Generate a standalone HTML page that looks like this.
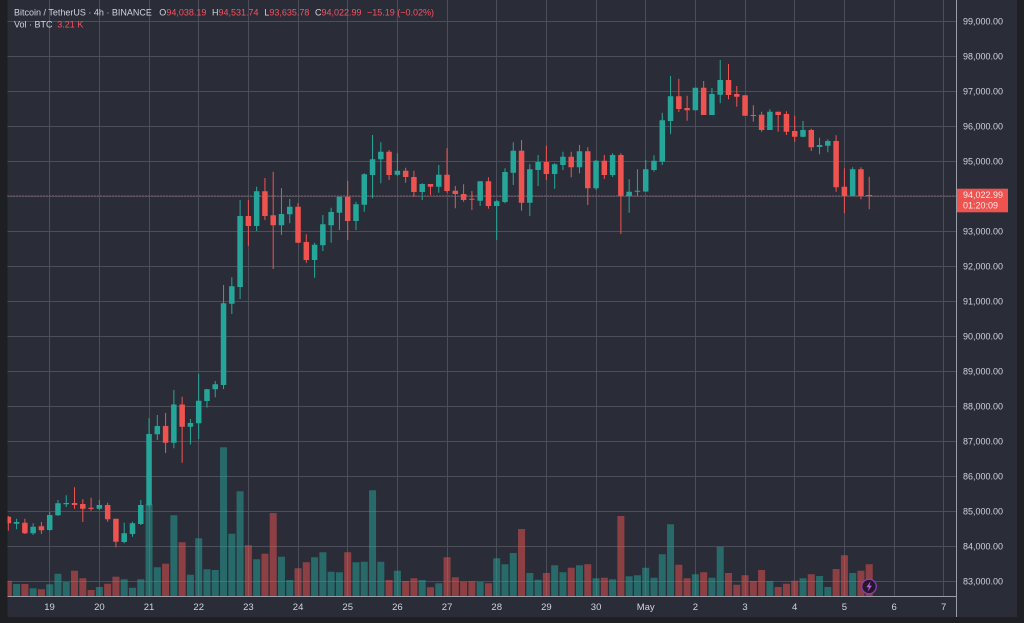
<!DOCTYPE html>
<html><head><meta charset="utf-8"><style>
html,body{margin:0;padding:0;background:#1e1f22;}
svg{display:block;}
text{font-family:"Liberation Sans",Arial,sans-serif;}
</style></head><body>
<svg width="1024" height="623" viewBox="0 0 1024 623" xmlns="http://www.w3.org/2000/svg">
<defs><clipPath id="c"><rect x="7.5" y="0" width="949" height="596"/></clipPath></defs>
<rect x="0" y="0" width="1024" height="623" fill="#1e1f22"/>
<rect x="7.5" y="0" width="1009.5" height="617" fill="#2a2d38"/>
<g stroke="#4c4f5a" stroke-width="1">
<path d="M7.5 21.5H956M7.5 56.5H956M7.5 91.5H956M7.5 126.5H956M7.5 161.5H956M7.5 196.5H956M7.5 231.5H956M7.5 266.5H956M7.5 301.5H956M7.5 336.5H956M7.5 371.5H956M7.5 406.5H956M7.5 441.5H956M7.5 476.5H956M7.5 511.5H956M7.5 546.5H956M7.5 581.5H956"/>
<path d="M49.5 0V596M99.5 0V596M149.5 0V596M198.5 0V596M248.5 0V596M298.5 0V596M347.5 0V596M397.5 0V596M447.5 0V596M496.5 0V596M546.5 0V596M596.5 0V596M645.5 0V596M695.5 0V596M745.5 0V596M794.5 0V596M844.5 0V596M894.5 0V596M943.5 0V596"/>
</g>
<g clip-path="url(#c)">
<path fill="#26a69a" fill-opacity="0.5" d="M13.09 584h7V596h-7zM29.64 588.3h7V596h-7zM46.2 584.3h7V596h-7zM54.48 573.7h7V596h-7zM62.76 582h7V596h-7zM95.87 587h7V596h-7zM120.7 579.3h7V596h-7zM128.98 587.7h7V596h-7zM137.26 579.3h7V596h-7zM145.54 504.3h7V596h-7zM153.81 567.3h7V596h-7zM170.37 515.3h7V596h-7zM186.93 574.7h7V596h-7zM195.2 538.3h7V596h-7zM203.48 569.3h7V596h-7zM211.76 570h7V596h-7zM220.04 447.3h7V596h-7zM228.32 533.7h7V596h-7zM236.59 491.3h7V596h-7zM253.15 559.3h7V596h-7zM277.98 556.7h7V596h-7zM286.26 580h7V596h-7zM311.1 557.3h7V596h-7zM319.37 552.3h7V596h-7zM327.65 571.7h7V596h-7zM335.93 572.3h7V596h-7zM352.49 562.3h7V596h-7zM360.76 561.7h7V596h-7zM369.04 490.3h7V596h-7zM377.32 561.7h7V596h-7zM393.88 570.7h7V596h-7zM418.71 580h7V596h-7zM435.27 583.3h7V596h-7zM476.66 582h7V596h-7zM493.21 558.3h7V596h-7zM501.49 564.3h7V596h-7zM509.77 553h7V596h-7zM526.32 573h7V596h-7zM534.6 579.7h7V596h-7zM551.16 565.3h7V596h-7zM559.44 572.3h7V596h-7zM575.99 565.3h7V596h-7zM592.55 578.3h7V596h-7zM609.1 579.3h7V596h-7zM625.66 576.3h7V596h-7zM633.94 575.3h7V596h-7zM642.22 567.7h7V596h-7zM650.49 577.7h7V596h-7zM658.77 554.3h7V596h-7zM667.05 524.3h7V596h-7zM691.88 574.3h7V596h-7zM708.44 577.7h7V596h-7zM716.72 546.7h7V596h-7zM766.39 581h7V596h-7zM799.5 578.3h7V596h-7zM816.05 576h7V596h-7zM824.33 587h7V596h-7zM849.17 573h7V596h-7z"/>
<path fill="#ef5350" fill-opacity="0.5" d="M4.81 580.7h7V596h-7zM21.37 584h7V596h-7zM37.92 589.3h7V596h-7zM71.03 570.7h7V596h-7zM79.31 578.3h7V596h-7zM87.59 590h7V596h-7zM104.15 583.7h7V596h-7zM112.42 576.7h7V596h-7zM162.09 563.7h7V596h-7zM178.65 542.3h7V596h-7zM244.87 545.3h7V596h-7zM261.43 553.7h7V596h-7zM269.71 513h7V596h-7zM294.54 568.3h7V596h-7zM302.82 562.3h7V596h-7zM344.21 552.3h7V596h-7zM385.6 580h7V596h-7zM402.15 581h7V596h-7zM410.43 578.3h7V596h-7zM426.99 587.3h7V596h-7zM443.54 557.3h7V596h-7zM451.82 577.3h7V596h-7zM460.1 581.7h7V596h-7zM468.38 581.3h7V596h-7zM484.93 583.3h7V596h-7zM518.05 529h7V596h-7zM542.88 573h7V596h-7zM567.71 567.7h7V596h-7zM584.27 564.3h7V596h-7zM600.83 577.7h7V596h-7zM617.38 516h7V596h-7zM675.33 564.7h7V596h-7zM683.61 578.3h7V596h-7zM700.16 572.3h7V596h-7zM725 573h7V596h-7zM733.27 584.7h7V596h-7zM741.55 575.3h7V596h-7zM749.83 581h7V596h-7zM758.11 570h7V596h-7zM774.66 587h7V596h-7zM782.94 583.7h7V596h-7zM791.22 580.7h7V596h-7zM807.78 574.3h7V596h-7zM832.61 569h7V596h-7zM840.89 555.3h7V596h-7zM857.44 570.7h7V596h-7zM865.72 564.3h7V596h-7z"/>
<path stroke="#ef5350" stroke-width="1" stroke-dasharray="1 2" d="M7.5 195.7H956"/>
<path stroke="#26a69a" stroke-width="1" fill="none" d="M16.59 518.7V529.3M33.14 523.3V535M49.7 511.7V530.7M57.98 500V516M66.26 495.3V507M99.37 500V510M124.2 522.7V543.3M132.48 521.7V536.7M140.76 500V525M149.04 418.3V506.7M157.31 415V440M173.87 390V448.3M190.43 419V444.5M198.7 374V439M206.98 389V407.5M215.26 381V397.3M223.54 285V389M231.82 277.3V314M240.09 200V299M256.65 186.7V231M281.48 188.3V235M289.76 199V223.3M314.6 242.7V277.7M322.87 215V251M331.15 207.7V242.7M339.43 196.7V230M355.99 201.7V230M364.26 173.3V211.7M372.54 135V198.3M380.82 142.3V183.3M397.38 153.3V176M422.21 183.3V200M438.77 165V192.7M480.16 181.3V206M496.71 200V240M504.99 168.3V203.3M513.27 142.3V185M529.82 164V216M538.1 155V186M554.66 163.3V188.7M562.94 151.7V170M579.49 145V173.3M596.05 160V190M612.6 153.3V177M629.16 179.3V212.7M637.44 169.3V196M645.72 160V192M653.99 155.3V171.7M662.27 112.7V165M670.55 76V134.3M695.38 87.7V110.3M711.94 88V115M720.22 60V103.3M769.89 109.3V130M803 121V137.3M819.55 137.7V154.3M827.83 139.3V152.3M852.67 167.3V196"/>
<path stroke="#ef5350" stroke-width="1" fill="none" d="M8.31 516V530.7M24.87 518.7V534M41.42 522V534M74.53 487.3V508.7M82.81 499.3V522M91.09 497.7V510.7M107.65 502.7V521.7M115.92 518.7V547.3M165.59 413V453M182.15 396.7V462.7M248.37 200V246M264.93 178V220M273.21 171.7V269M298.04 203V243M306.32 234.3V262.7M347.71 180.7V240M389.1 150V180M405.65 167.7V182.7M413.93 170.7V196.7M430.49 184V195M447.04 148.3V192.7M455.32 186V208.3M463.6 184.3V201.7M471.88 191V210M488.43 177.3V208.7M521.55 140V210.7M546.38 145.7V180M571.21 151.7V177.3M587.77 147.3V205M604.33 155V179M620.88 153.3V234M678.83 78.7V112M687.11 95.7V120.7M703.66 81V115M728.5 64V99.3M736.77 86V106.7M745.05 95.3V115.7M753.33 105.3V121.7M761.61 111.7V131.7M778.16 111.7V131.7M786.44 111.3V135M794.72 115.7V141.7M811.28 128.7V151M836.11 135.3V191.7M844.39 168.3V213.3M860.94 167.3V199.3M869.22 176.7V209.3"/>
<path fill="#26a69a" d="M13.84 522h5.5v1.7h-5.5zM30.39 526.7h5.5v6.6h-5.5zM46.95 515h5.5v15h-5.5zM55.23 503.3h5.5v12h-5.5zM63.51 503h5.5v1.2h-5.5zM96.62 505h5.5v3.7h-5.5zM121.45 533.3h5.5v8.7h-5.5zM129.73 523.3h5.5v10.7h-5.5zM138.01 505h5.5v19h-5.5zM146.29 434h5.5v71.3h-5.5zM154.56 426h5.5v8.3h-5.5zM171.12 404.5h5.5v38.2h-5.5zM187.68 423h5.5v3.7h-5.5zM195.95 400.7h5.5v22.6h-5.5zM204.23 389.3h5.5v11.7h-5.5zM212.51 384.3h5.5v5h-5.5zM220.79 303.3h5.5v81.7h-5.5zM229.07 286.3h5.5v17.4h-5.5zM237.34 216h5.5v71h-5.5zM253.9 191.3h5.5v34.7h-5.5zM278.73 214h5.5v11.3h-5.5zM287.01 206.7h5.5v7.6h-5.5zM311.85 244.7h5.5v15.3h-5.5zM320.12 224.3h5.5v21h-5.5zM328.4 212h5.5v13.3h-5.5zM336.68 196.7h5.5v16h-5.5zM353.24 204.3h5.5v16.7h-5.5zM361.51 174.3h5.5v30.4h-5.5zM369.79 159.3h5.5v15.7h-5.5zM378.07 151.7h5.5v7.6h-5.5zM394.63 170.7h5.5v4h-5.5zM419.46 184h5.5v8h-5.5zM436.02 174.7h5.5v12h-5.5zM477.41 181.3h5.5v19.4h-5.5zM493.96 201.3h5.5v4.7h-5.5zM502.24 172h5.5v30h-5.5zM510.52 150.7h5.5v22h-5.5zM527.07 169.3h5.5v33.4h-5.5zM535.35 162h5.5v8h-5.5zM551.91 164.3h5.5v9.7h-5.5zM560.19 156.7h5.5v8.3h-5.5zM576.74 151.3h5.5v16h-5.5zM593.3 160.7h5.5v27.6h-5.5zM609.85 155h5.5v20h-5.5zM626.41 191.7h5.5v4.3h-5.5zM634.69 190.7h5.5v1h-5.5zM642.97 169.3h5.5v22.2h-5.5zM651.24 160.7h5.5v9.3h-5.5zM659.52 120.3h5.5v41.4h-5.5zM667.8 96.3h5.5v24.7h-5.5zM692.63 87.7h5.5v22.6h-5.5zM709.19 94h5.5v21h-5.5zM717.47 80h5.5v14.7h-5.5zM767.14 111.7h5.5v18.3h-5.5zM800.25 130h5.5v6.7h-5.5zM816.8 145h5.5v2h-5.5zM825.08 141h5.5v4.7h-5.5zM849.92 169.3h5.5v26.7h-5.5z"/>
<path fill="#ef5350" d="M5.56 516.7h5.5v6.6h-5.5zM22.12 522.7h5.5v10.6h-5.5zM38.67 526.3h5.5v4h-5.5zM71.78 503h5.5v2h-5.5zM80.06 504h5.5v4.7h-5.5zM88.34 507.7h5.5v1.2h-5.5zM104.9 505h5.5v14.3h-5.5zM113.17 518.7h5.5v23h-5.5zM162.84 426h5.5v16.7h-5.5zM179.4 404.5h5.5v22.2h-5.5zM245.62 216h5.5v10h-5.5zM262.18 191.3h5.5v24.7h-5.5zM270.46 215.3h5.5v10h-5.5zM295.29 206.7h5.5v36h-5.5zM303.57 242h5.5v18h-5.5zM344.96 196.7h5.5v24.3h-5.5zM386.35 151.7h5.5v23.3h-5.5zM402.9 170.7h5.5v6.3h-5.5zM411.18 177h5.5v15h-5.5zM427.74 184h5.5v2.7h-5.5zM444.29 174.7h5.5v16.3h-5.5zM452.57 190.7h5.5v3.3h-5.5zM460.85 194h5.5v6h-5.5zM469.13 198.7h5.5v1h-5.5zM485.68 181.3h5.5v24.7h-5.5zM518.8 150.7h5.5v52h-5.5zM543.63 162h5.5v12h-5.5zM568.46 156.7h5.5v10.6h-5.5zM585.02 151.3h5.5v37h-5.5zM601.58 160.7h5.5v14.3h-5.5zM618.13 155h5.5v41h-5.5zM676.08 96.3h5.5v12.7h-5.5zM684.36 108h5.5v2.3h-5.5zM700.91 87.7h5.5v27.3h-5.5zM725.75 80h5.5v15h-5.5zM734.02 94h5.5v2.7h-5.5zM742.3 95.3h5.5v20.4h-5.5zM750.58 115h5.5v1h-5.5zM758.86 114.7h5.5v15.3h-5.5zM775.41 111.7h5.5v3.3h-5.5zM783.69 114h5.5v17.7h-5.5zM791.97 131h5.5v5.7h-5.5zM808.53 130h5.5v17.3h-5.5zM833.36 141h5.5v46.3h-5.5zM841.64 186.7h5.5v9.3h-5.5zM858.19 169.3h5.5v26.7h-5.5zM866.47 195h5.5v1h-5.5z"/>
</g>
<!-- lightning icon -->
<circle cx="869" cy="586.5" r="7.3" fill="#221a2c" stroke="#8e3aae" stroke-width="1.4"/>
<path d="M870.6 581.2L866.4 587.2H869L867.6 591.8L871.9 585.6H869.3Z" fill="#c05ce0"/>
<!-- axes -->
<path stroke="#9a9da8" stroke-width="1" d="M956.5 0V617M7.5 596.5H956.5"/>
<!-- price labels -->
<g fill="#d1d4dc" font-size="9">
<text x="963" y="24.7">99,000.00</text>
<text x="963" y="59.7">98,000.00</text>
<text x="963" y="94.7">97,000.00</text>
<text x="963" y="129.7">96,000.00</text>
<text x="963" y="164.7">95,000.00</text>
<text x="963" y="234.7">93,000.00</text>
<text x="963" y="269.7">92,000.00</text>
<text x="963" y="304.7">91,000.00</text>
<text x="963" y="339.7">90,000.00</text>
<text x="963" y="374.7">89,000.00</text>
<text x="963" y="409.7">88,000.00</text>
<text x="963" y="444.7">87,000.00</text>
<text x="963" y="479.7">86,000.00</text>
<text x="963" y="514.7">85,000.00</text>
<text x="963" y="549.7">84,000.00</text>
<text x="963" y="584.7">83,000.00</text>
</g>
<!-- price tag -->
<rect x="957" y="188.7" width="51" height="23.6" fill="#ef5350"/>
<g fill="#fbe9e9" font-size="9">
<text x="963" y="198.2">94,022.99</text>
<text x="963" y="208.6">01:20:09</text>
</g>
<!-- time labels -->
<g fill="#d1d4dc" font-size="9.5" text-anchor="middle">
<text x="49.5" y="610">19</text>
<text x="99.4" y="610">20</text>
<text x="149" y="610">21</text>
<text x="198.7" y="610">22</text>
<text x="248.4" y="610">23</text>
<text x="298.1" y="610">24</text>
<text x="347.7" y="610">25</text>
<text x="397.4" y="610">26</text>
<text x="447.1" y="610">27</text>
<text x="496.7" y="610">28</text>
<text x="546.4" y="610">29</text>
<text x="596.1" y="610">30</text>
<text x="645.7" y="610">May</text>
<text x="695.4" y="610">2</text>
<text x="745" y="610">3</text>
<text x="794.7" y="610">4</text>
<text x="844.4" y="610">5</text>
<text x="894.1" y="610">6</text>
<text x="943.7" y="610">7</text>
</g>
<!-- header -->
<g font-size="9">
<text x="14" y="15.5" fill="#d1d4dc">Bitcoin / TetherUS · 4h · BINANCE</text>
<text x="159.3" y="15.5" fill="#d1d4dc">O<tspan fill="#f7525f">94,038.19</tspan></text>
<text x="212" y="15.5" fill="#d1d4dc">H<tspan fill="#f7525f">94,531.74</tspan></text>
<text x="264.3" y="15.5" fill="#d1d4dc">L<tspan fill="#f7525f">93,635.78</tspan></text>
<text x="315" y="15.5" fill="#d1d4dc">C<tspan fill="#f7525f">94,022.99</tspan></text>
<text x="367" y="15.5" fill="#f7525f">−15.19 (−0.02%)</text>
<text x="14" y="27.5" fill="#d1d4dc">Vol · BTC</text>
<text x="57.3" y="27.5" fill="#f7525f">3.21 K</text>
</g>
</svg>
</body></html>
